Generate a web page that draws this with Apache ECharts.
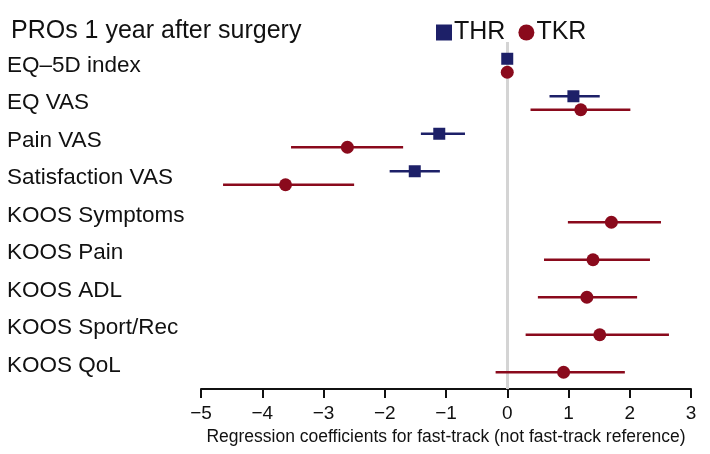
<!DOCTYPE html>
<html>
<head>
<meta charset="utf-8">
<script src="https://cdn.jsdelivr.net/npm/echarts@6/dist/echarts.min.js"></script>
<style>
  html, body { margin: 0; padding: 0; background: #fff; }
  #proChart { width: 710px; height: 454px; }
</style>
</head>
<body>
<div id="proChart"></div>
<script>
// outcome rows, top to bottom
const categories = ['EQ–5D index', 'EQ VAS', 'Pain VAS', 'Satisfaction VAS', 'KOOS Symptoms',
  'KOOS Pain', 'KOOS ADL', 'KOOS Sport/Rec', 'KOOS QoL']
// THR (hip) estimates and 95% CI, only first four rows
const thrEst = [0, 1.08, -1.11, -1.51]
const thrLow = [-0.01, 0.69, -1.41, -1.92]
const thrHigh = [0.01, 1.51, -0.69, -1.10]
// TKR (knee) estimates and 95% CI
const tkrEst = [0, 1.20, -2.61, -3.62, 1.70, 1.40, 1.30, 1.51, 0.92]
const tkrLow = [-0.01, 0.38, -3.53, -4.64, 0.99, 0.60, 0.50, 0.30, -0.19]
const tkrHigh = [0.01, 2.01, -1.70, -2.50, 2.51, 2.33, 2.12, 2.64, 1.92]
const xTicks = [-5, -4, -3, -2, -1, 0, 1, 2, 3]

const thrColor = '#1d2068'
const tkrColor = '#8a0a1c'
const font = 'Liberation Sans, Arial, Helvetica, sans-serif'
// vertical offset of each group inside a row
const thrShift = -0.18
const tkrShift = 0.18

const chart = echarts.init(document.getElementById('proChart'))

function barData(est, low, high, shift) {
  return est.map((v, i) => [low[i], high[i], i + shift])
}
function pointData(est, shift) {
  return est.map((v, i) => [v, i + shift])
}
function renderBar(color) {
  return function (params, api) {
    const a = api.coord([api.value(0), api.value(2)])
    const b = api.coord([api.value(1), api.value(2)])
    return {
      type: 'line',
      shape: { x1: a[0], y1: a[1], x2: b[0], y2: b[1] },
      style: { stroke: color, lineWidth: 2.5 }
    }
  }
}

const option = {
  animation: false,
  backgroundColor: '#fff',
  title: {
    text: 'PROs 1 year after surgery',
    left: 6,
    top: 14,
    textStyle: { fontFamily: font, fontSize: 25, fontWeight: 'normal', color: '#111' }
  },
  legend: {
    left: 431,
    top: 15,
    itemWidth: 16,
    itemHeight: 16,
    itemGap: 13,
    data: [{ name: 'THR', icon: 'rect' }, { name: 'TKR', icon: 'circle' }],
    textStyle: { fontFamily: font, fontSize: 25, color: '#111', padding: [0, 0, 0, -3] }
  },
  grid: { left: 201, right: 19, top: 42, bottom: 65 },
  xAxis: {
    type: 'value',
    min: -5,
    max: 3,
    interval: 1,
    data: xTicks,
    name: 'Regression coefficients for fast-track (not fast-track reference)',
    nameLocation: 'middle',
    nameGap: 36,
    nameTextStyle: { fontFamily: font, fontSize: 17.5, color: '#111' },
    axisLine: { show: true, onZero: false, lineStyle: { color: '#111', width: 2 } },
    axisTick: { show: true, length: 9, lineStyle: { color: '#111', width: 2 } },
    axisLabel: {
      margin: 15,
      fontFamily: font,
      fontSize: 19,
      color: '#111',
      formatter: v => String(v).replace('-', '\u2212')
    },
    splitLine: { show: false }
  },
  yAxis: {
    type: 'value',
    inverse: true,
    min: -0.627,
    max: 8.627,
    axisLine: { show: false },
    axisTick: { show: false },
    splitLine: { show: false },
    axisLabel: {
      customValues: categories.map((c, i) => i),
      formatter: v => categories[Math.round(v)],
      align: 'left',
      margin: 194,
      fontFamily: font,
      fontSize: 22.5,
      color: '#111'
    }
  },
  series: [
    {
      // zero reference line
      name: 'ref',
      type: 'scatter',
      data: [],
      z: 1,
      markLine: {
        silent: true,
        z: 1,
        symbol: 'none',
        label: { show: false },
        lineStyle: { color: '#d4d4d4', width: 3, type: 'solid' },
        data: [{ xAxis: 0 }]
      }
    },
    {
      name: 'THR ci',
      type: 'custom',
      z: 2,
      renderItem: renderBar(thrColor),
      data: barData(thrEst, thrLow, thrHigh, thrShift)
    },
    {
      name: 'TKR ci',
      type: 'custom',
      z: 2,
      renderItem: renderBar(tkrColor),
      data: barData(tkrEst, tkrLow, tkrHigh, tkrShift)
    },
    {
      name: 'THR',
      type: 'scatter',
      symbol: 'rect',
      symbolSize: 12,
      z: 3,
      itemStyle: { color: thrColor, opacity: 1 },
      data: pointData(thrEst, thrShift)
    },
    {
      name: 'TKR',
      type: 'scatter',
      symbol: 'circle',
      symbolSize: 13,
      z: 3,
      itemStyle: { color: tkrColor, opacity: 1 },
      data: pointData(tkrEst, tkrShift)
    }
  ]
}

chart.setOption(option)
</script>
</body>
</html>
